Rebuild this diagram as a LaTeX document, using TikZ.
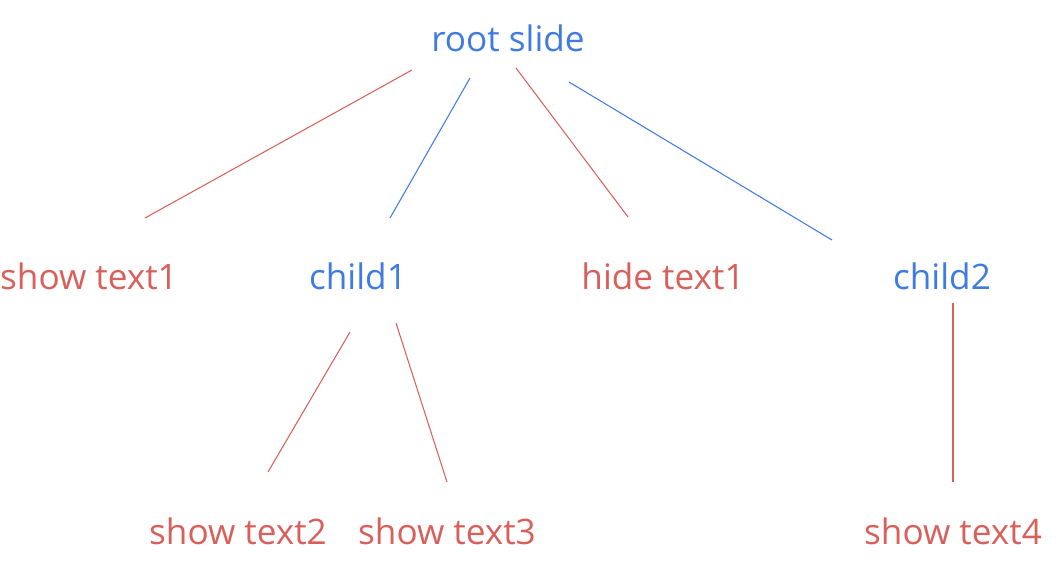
\documentclass[tikz,border=0pt]{standalone}
\usepackage{fontspec}
\setmainfont{Open Sans}
\usetikzlibrary{positioning}
\definecolor{slideblue}{HTML}{3F7BE0}
\definecolor{textred}{HTML}{D9605A}
\tikzset{
  slide/.style={
    text=slideblue, inner sep=0pt, font=\fontsize{20}{22}\selectfont
  },
  action/.style={
    text=textred, inner sep=0pt, font=\fontsize{20}{22}\selectfont
  },
  slidelink/.style={
    draw=slideblue, line width=0.6pt
  },
  actionlink/.style={
    draw=textred, line width=0.6pt
  }
}

\begin{document}
\begin{tikzpicture}[x=0.02cm, y=-0.02cm]
      \useasboundingbox (0,0) rectangle (1062,572);

      % Slides
      \node[slide] (root) at (508,38) {root slide};
      \node[slide] (child1) at (358,276) {child1};
      \node[slide] (child2) at (942,276) {child2};

      % Actions
      \node[action] (show1) at (89,276) {show text1};
      \node[action] (hide1) at (663,276) {hide text1};
      \node[action] (show2) at (238,531) {show text2};
      \node[action] (show3) at (447,531) {show text3};
      \node[action] (show4) at (953,531) {show text4};

      % Links from root
      \draw[actionlink] ([shift={(-96,32)}]root.center) -- ([shift={(56,-58)}]show1.center);
      \draw[slidelink] ([shift={(-38,40)}]root.center) -- ([shift={(32,-58)}]child1.center);
      \draw[actionlink] ([shift={(8,30)}]root.center) -- ([shift={(-35,-59)}]hide1.center);
      \draw[slidelink] ([shift={(61,44)}]root.center) -- ([shift={(-110,-36)}]child2.center);

      % Links from children
      \draw[actionlink] ([shift={(-8,56)}]child1.center) -- ([shift={(30,-59)}]show2.center);
      \draw[actionlink] ([shift={(38,47)}]child1.center) -- ([shift={(0,-49)}]show3.center);
      \draw[actionlink] ([shift={(11,27)}]child2.center) -- ([shift={(0,-49)}]show4.center);
\end{tikzpicture}
\end{document}
